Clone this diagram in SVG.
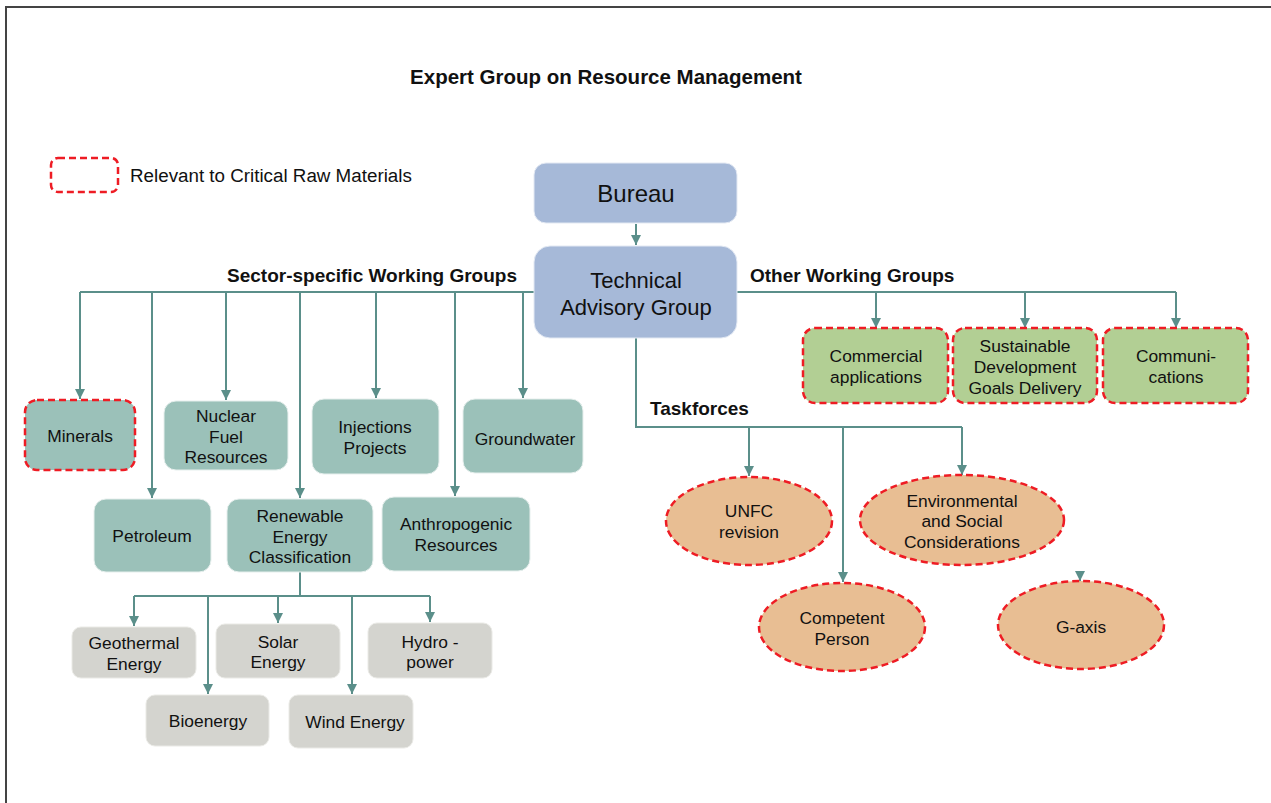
<svg xmlns="http://www.w3.org/2000/svg" width="1271" height="803" viewBox="0 0 1271 803">
<style>
text{font-family:"Liberation Sans",Arial,sans-serif;fill:#111;text-anchor:middle}
.n{font-size:17.4px}
.h{font-size:19px;font-weight:bold;text-anchor:start}
.teal{fill:#9bc1b9;stroke:#e6efed;stroke-width:1}
.grey{fill:#d4d4cf;stroke:#eaeae6;stroke-width:1}
.blue{fill:#a6b9d8;stroke:#e3e9f3;stroke-width:1}
.green{fill:#b2cf94}
.orange{fill:#e8be93}
.crm{stroke:#ee1c24;stroke-width:2.5;stroke-dasharray:7 4}
.c{fill:none;stroke:#5b8f8a;stroke-width:2}
.a{marker-end:url(#arr)}
</style>
<defs>
<marker id="arr" viewBox="0 0 10 10" refX="10" refY="5" markerWidth="10" markerHeight="10" markerUnits="userSpaceOnUse" orient="auto">
<path d="M0,0 L10,5 L0,10 z" fill="#5b8f8a"/>
</marker>
</defs>
<rect x="0" y="0" width="1271" height="803" fill="#fff"/>
<path d="M6,803 V7 H1271" fill="none" stroke="#444" stroke-width="2"/>
<text x="606" y="84" style="font-size:20.5px;font-weight:bold">Expert Group on Resource Management</text>
<g id="legend">
<rect x="51" y="158" width="67" height="34" rx="7" fill="none" class="crm"/>
<text x="130" y="182" style="font-size:18.8px;text-anchor:start">Relevant to Critical Raw Materials</text>
</g>
<g id="labels">
<text class="h" x="227" y="282">Sector-specific Working Groups</text>
<text class="h" x="750" y="282">Other Working Groups</text>
<text class="h" x="650" y="415">Taskforces</text>
</g>
<g id="connectors">
<path class="c a" d="M636,224 V245"/>
<path class="c" d="M534,292 H80"/>
<path class="c a" d="M80,292 V399"/>
<path class="c a" d="M152,292 V498"/>
<path class="c a" d="M226,292 V400"/>
<path class="c a" d="M300,292 V498"/>
<path class="c a" d="M376,292 V398"/>
<path class="c a" d="M455,292 V496"/>
<path class="c a" d="M523,292 V398"/>
<path class="c" d="M737,292 H1176"/>
<path class="c a" d="M876,292 V328"/>
<path class="c a" d="M1025,292 V328"/>
<path class="c a" d="M1176,292 V328"/>
<path class="c" d="M636,338 V427 H962"/>
<path class="c a" d="M749,427 V476"/>
<path class="c a" d="M843,427 V582"/>
<path class="c a" d="M962,427 V475"/>
<path class="c" d="M300,572 V596 M134,596 H430"/>
<path class="c a" d="M134,596 V626"/>
<path class="c a" d="M208,596 V694"/>
<path class="c a" d="M278,596 V623"/>
<path class="c a" d="M352,596 V694"/>
<path class="c a" d="M430,596 V622"/>
<path class="c a" d="M1080,571 V581" stroke-width="0.1"/>
</g>
<g id="bureau">
<rect class="blue" x="534" y="163" width="203" height="60" rx="12"/>
<text x="636" y="202" style="font-size:24px">Bureau</text>
</g>
<g id="tag">
<rect class="blue" x="534" y="246" width="203" height="92" rx="16"/>
<text x="636" y="288" style="font-size:22px">Technical</text>
<text x="636" y="315" style="font-size:22px">Advisory Group</text>
</g>
<g id="minerals">
<rect class="teal crm" x="25" y="400" width="110" height="70" rx="12"/>
<text class="n" x="80" y="442">Minerals</text>
</g>
<g id="nuclear">
<rect class="teal" x="164" y="401" width="124" height="69" rx="12"/>
<text class="n" x="226" y="422">Nuclear</text>
<text class="n" x="226" y="443">Fuel</text>
<text class="n" x="226" y="463">Resources</text>
</g>
<g id="injections">
<rect class="teal" x="312" y="399" width="127" height="75" rx="12"/>
<text class="n" x="375" y="433">Injections</text>
<text class="n" x="375" y="454">Projects</text>
</g>
<g id="groundwater">
<rect class="teal" x="463" y="399" width="120" height="74" rx="12"/>
<text class="n" x="525" y="445">Groundwater</text>
</g>
<g id="petroleum">
<rect class="teal" x="94" y="499" width="117" height="73" rx="12"/>
<text class="n" x="152" y="542">Petroleum</text>
</g>
<g id="renewable">
<rect class="teal" x="227" y="499" width="146" height="73" rx="12"/>
<text class="n" x="300" y="522">Renewable</text>
<text class="n" x="300" y="543">Energy</text>
<text class="n" x="300" y="563">Classification</text>
</g>
<g id="anthropogenic">
<rect class="teal" x="382" y="497" width="148" height="74" rx="12"/>
<text class="n" x="456" y="530">Anthropogenic</text>
<text class="n" x="456" y="551">Resources</text>
</g>
<g id="geothermal">
<rect class="grey" x="72" y="627" width="124" height="51" rx="9"/>
<text class="n" x="134" y="649">Geothermal</text>
<text class="n" x="134" y="670">Energy</text>
</g>
<g id="solar">
<rect class="grey" x="216" y="624" width="124" height="54" rx="9"/>
<text class="n" x="278" y="648">Solar</text>
<text class="n" x="278" y="668">Energy</text>
</g>
<g id="hydro">
<rect class="grey" x="368" y="623" width="124" height="55" rx="9"/>
<text class="n" x="430" y="648">Hydro -</text>
<text class="n" x="430" y="668">power</text>
</g>
<g id="bioenergy">
<rect class="grey" x="146" y="695" width="123" height="51" rx="9"/>
<text class="n" x="208" y="727">Bioenergy</text>
</g>
<g id="wind">
<rect class="grey" x="289" y="695" width="124" height="53" rx="9"/>
<text class="n" x="355" y="728">Wind Energy</text>
</g>
<g id="commercial">
<rect class="green crm" x="803" y="328" width="145" height="75" rx="12"/>
<text class="n" x="876" y="362">Commercial</text>
<text class="n" x="876" y="383">applications</text>
</g>
<g id="sdg">
<rect class="green crm" x="953" y="328" width="144" height="75" rx="12"/>
<text class="n" x="1025" y="352">Sustainable</text>
<text class="n" x="1025" y="373">Development</text>
<text class="n" x="1025" y="394">Goals Delivery</text>
</g>
<g id="communications">
<rect class="green crm" x="1103" y="328" width="145" height="75" rx="12"/>
<text class="n" x="1176" y="362">Communi-</text>
<text class="n" x="1176" y="383">cations</text>
</g>
<g id="unfc">
<ellipse class="orange crm" cx="749" cy="521" rx="83" ry="44"/>
<text class="n" x="749" y="517">UNFC</text>
<text class="n" x="749" y="538">revision</text>
</g>
<g id="environmental">
<ellipse class="orange crm" cx="962" cy="520" rx="102" ry="45"/>
<text class="n" x="962" y="507">Environmental</text>
<text class="n" x="962" y="527">and Social</text>
<text class="n" x="962" y="548">Considerations</text>
</g>
<g id="competent">
<ellipse class="orange crm" cx="842" cy="627" rx="83" ry="44"/>
<text class="n" x="842" y="624">Competent</text>
<text class="n" x="842" y="645">Person</text>
</g>
<g id="gaxis">
<ellipse class="orange crm" cx="1081" cy="625" rx="83" ry="44"/>
<text class="n" x="1081" y="633">G-axis</text>
</g>
</svg>
